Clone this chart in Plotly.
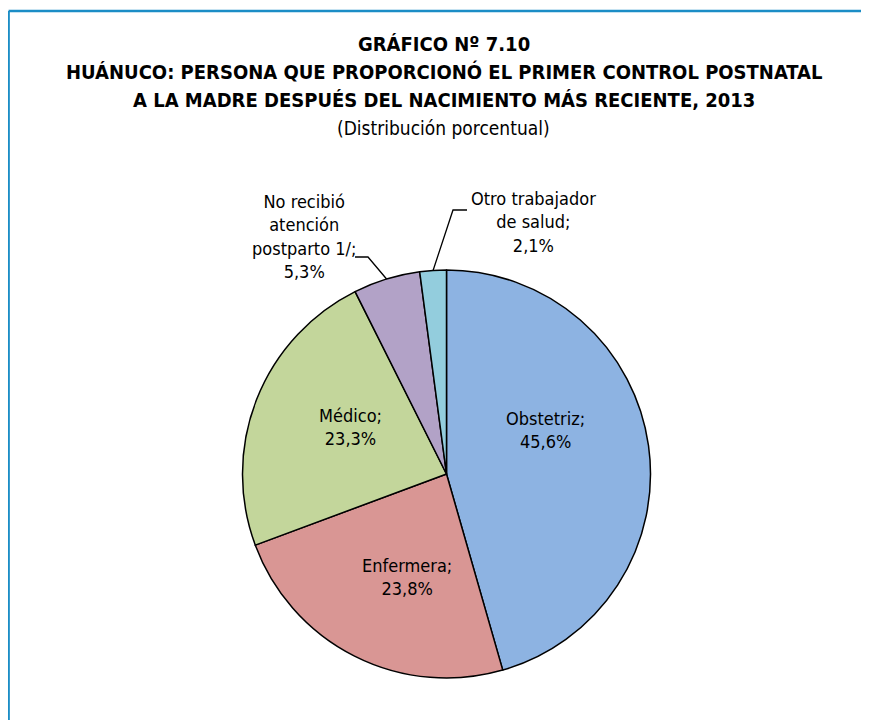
import math
import plotly.graph_objects as go

categories = ["Obstetriz", "Enfermera", "Médico", "No recibió atención postparto 1/", "Otro trabajador de salud"]
values = [45.6, 23.8, 23.3, 5.3, 2.1]
label_texts = ["Obstetriz;", "Enfermera;", "Médico;", "No recibió<br>atención<br>postparto 1/;", "Otro trabajador<br>de salud;"]
colors = ["#8DB3E2", "#D99694", "#C3D69B", "#B2A2C7", "#93CDDD"]

title_lines = ["<b>GRÁFICO Nº 7.10</b>",
               "<b>HUÁNUCO: PERSONA QUE PROPORCIONÓ EL PRIMER CONTROL POSTNATAL</b>",
               "<b>A LA MADRE DESPUÉS DEL NACIMIENTO MÁS RECIENTE, 2013</b>",
               "(Distribución porcentual)"]

OFF = 8  # page body margin
W, H = 869 - OFF, 720 - OFF
CX, CY, R = 446.5, 474.0, 204.0
FONT = "Liberation Sans Narrow, Arial Narrow, DejaVu Sans Condensed, sans-serif"


def px(x):
    return (x - OFF) / W


def py(y):
    return 1 - (y - OFF) / H


def fmt(v):
    return f"{v:.1f}".replace(".", ",") + "%"


fig = go.Figure(go.Pie(
    labels=categories, values=values, sort=False, direction="clockwise", rotation=0,
    marker=dict(colors=colors, line=dict(color="#000000", width=1.5)),
    textinfo="none", hoverinfo="label+value", showlegend=False,
    domain=dict(x=[px(CX - R), px(CX + R)], y=[py(CY + R), py(CY - R)]),
))

annotations = []
for i, t in enumerate(title_lines):
    annotations.append(dict(x=px(444), y=py(44 + 28 * i), xref="paper", yref="paper",
                            text=t, showarrow=False, xanchor="center", yanchor="middle",
                            font=dict(family=FONT, size=20 if i < 3 else 19, color="#000000")))

inside_pos = {0: (545, 430), 1: (407, 577), 2: (350, 427)}
outside_pos = {3: (304, 237), 4: (533, 222)}
for i, (x, y) in {**inside_pos, **outside_pos}.items():
    annotations.append(dict(x=px(x), y=py(y), xref="paper", yref="paper",
                            text=f"{label_texts[i]}<br>{fmt(values[i])}", showarrow=False,
                            xanchor="center", yanchor="middle", align="center",
                            font=dict(family=FONT, size=18, color="#000000")))

# leader lines: end on slice mid-angle at pie edge
total = sum(values)
cum = 0
mids = []
for v in values:
    mids.append((cum + v / 2) / total * 2 * math.pi)
    cum += v

shapes = []
elbows = {3: [(355, 257), (368, 257)], 4: [(467, 210), (453, 210)]}
for i, pts in elbows.items():
    a = mids[i]
    ex, ey = CX + R * math.sin(a), CY - R * math.cos(a)
    allpts = pts + [(ex, ey)]
    path = "M " + " L ".join(f"{px(x)},{py(y)}" for x, y in allpts)
    shapes.append(dict(type="path", xref="paper", yref="paper", path=path,
                       line=dict(color="#000000", width=1.3)))

# frame
BC = "#1B8DC6"
shapes.append(dict(type="line", xref="paper", yref="paper", x0=px(8.6), x1=1.0, y0=py(11), y1=py(11),
                   line=dict(color=BC, width=2.5)))
shapes.append(dict(type="line", xref="paper", yref="paper", x0=px(8.6), x1=px(8.6), y0=py(11), y1=0,
                   line=dict(color=BC, width=2.5)))

fig.update_layout(width=W, height=H, margin=dict(l=0, r=0, t=0, b=0),
                  paper_bgcolor="white", plot_bgcolor="white",
                  annotations=annotations, shapes=shapes)

fig.write_html("out.html")
